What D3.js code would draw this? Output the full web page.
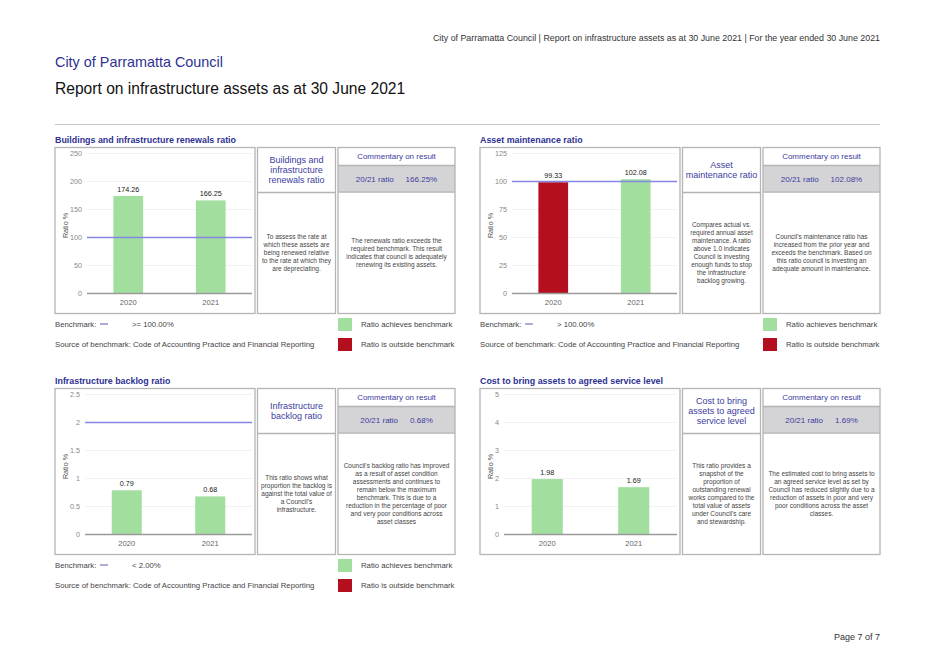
<!DOCTYPE html>
<html>
<head>
<meta charset="utf-8">
<script src="https://cdn.jsdelivr.net/npm/d3@7"></script>
<style>
  body { margin: 0; background: #fff; }
  svg { font-family: "Liberation Sans", Arial, sans-serif; }
  .box { fill: none; stroke: #b4b4b4; stroke-width: 1.3; }
  .ptitle { font-weight: bold; font-size: 8.9px; fill: #2e3192; }
  .tick { font-size: 7.2px; fill: #888; }
  .xlab { font-size: 7.6px; fill: #666; }
  .vlab { font-size: 7.2px; fill: #222; }
  .boxtitle { font-size: 9px; fill: #3c3ca0; }
  .body { font-size: 6.5px; fill: #444; }
  .legend { font-size: 7.75px; fill: #444; }
</style>
</head>
<body>
<script>
// ---- data ----
const years = ["2020", "2021"];
const renewalsValues = [174.26, 166.25];
const maintenanceValues = [99.33, 102.08];
const backlogValues = [0.79, 0.68];
const costValues = [1.98, 1.69];

const panelTitles = [
  "Buildings and infrastructure renewals ratio",
  "Asset maintenance ratio",
  "Infrastructure backlog ratio",
  "Cost to bring assets to agreed service level"
];
const yMaxes = [250, 125, 2.5, 5];
const yTickSteps = [50, 25, 0.5, 1];
const benchmarks = [100, 100, 2, null];
const benchmarkLabels = [">= 100.00%", "> 100.00%", "< 2.00%", null];
const ratioLabels = ["166.25%", "102.08%", "0.68%", "1.69%"];

const boxTitles = [
  ["Buildings and", "infrastructure", "renewals ratio"],
  ["Asset", "maintenance ratio"],
  ["Infrastructure", "backlog ratio"],
  ["Cost to bring", "assets to agreed", "service level"]
];
const descriptions = [
  ["To assess the rate at", "which these assets are", "being renewed relative", "to the rate at which they", "are depreciating."],
  ["Compares actual vs.", "required annual asset", "maintenance. A ratio", "above 1.0 indicates", "Council is investing", "enough funds to stop", "the infrastructure", "backlog growing."],
  ["This ratio shows what", "proportion the backlog is", "against the total value of", "a Council\u2019s", "infrastructure."],
  ["This ratio provides a", "snapshot of the", "proportion of", "outstanding renewal", "works compared to the", "total value of assets", "under Council\u2019s care", "and stewardship."]
];
const commentaries = [
  ["The renewals ratio exceeds the", "required benchmark. This result", "indicates that council is adequately", "renewing its existing assets."],
  ["Council\u2019s maintenance ratio has", "increased from the prior year and", "exceeds the benchmark. Based on", "this ratio council is investing an", "adequate amount in maintenance."],
  ["Council\u2019s backlog ratio has improved", "as a result of asset condition", "assessments and continues to", "remain below the maximum", "benchmark. This is due to a", "reduction in the percentage of poor", "and very poor conditions across", "asset classes"],
  ["The estimated cost to bring assets to", "an agreed service level as set by", "Council has reduced slightly due to a", "reduction of assets in poor and very", "poor conditions across the asset", "classes."]
];
const seriesValues = [renewalsValues, maintenanceValues, backlogValues, costValues];
// benchmark test per panel: true = achieves
const passTests = [
  v => v >= 100,
  v => v > 100,
  v => v < 2,
  v => true
];

const GREEN = "#a2df9f", RED = "#b30f1f";

const W = 937, H = 665;
const svg = d3.select("body").append("svg").attr("width", W).attr("height", H);
svg.append("rect").attr("width", W).attr("height", H).attr("fill", "#fff");

// page header
svg.append("text").attr("x", 880).attr("y", 41).attr("text-anchor", "end")
  .attr("font-size", 8.85).attr("fill", "#333")
  .text("City of Parramatta Council | Report on infrastructure assets as at 30 June 2021 | For the year ended 30 June 2021");
svg.append("text").attr("x", 55).attr("y", 67).attr("font-size", 14.4).attr("fill", "#2e3192")
  .text("City of Parramatta Council");
svg.append("text").attr("x", 55).attr("y", 94).attr("font-size", 15.6).attr("fill", "#111")
  .text("Report on infrastructure assets as at 30 June 2021");
svg.append("line").attr("x1", 55).attr("x2", 880).attr("y1", 124.5).attr("y2", 124.5)
  .attr("stroke", "#c8c8c8").attr("stroke-width", 1);
svg.append("text").attr("x", 880).attr("y", 640).attr("text-anchor", "end")
  .attr("font-size", 9).attr("fill", "#333").text("Page 7 of 7");

// multi-line centred text block
function textBlock(g, lines, cx, cy, lh, cls) {
  const t = g.append("text").attr("class", cls).attr("text-anchor", "middle");
  const y0 = cy - (lines.length - 1) * lh / 2;
  lines.forEach((l, i) => {
    t.append("tspan").attr("x", cx).attr("y", y0 + i * lh).attr("dy", "0.35em").text(l);
  });
  return t;
}

const origins = [[55, 147.5], [480, 147.5], [55, 388.5], [480, 388.5]];

origins.forEach((o, i) => {
  const g = svg.append("g").attr("transform", `translate(${o[0]},${o[1]})`);
  const values = seriesValues[i];

  g.append("text").attr("class", "ptitle").attr("x", 0).attr("y", -5).text(panelTitles[i]);

  // ---- chart box ----
  g.append("rect").attr("class", "box").attr("x", 0).attr("y", 0).attr("width", 200).attr("height", 166);

  const y = d3.scaleLinear().domain([0, yMaxes[i]]).range([146, 6]);
  const ticks = d3.range(0, yMaxes[i] + yTickSteps[i] / 2, yTickSteps[i]);

  const tickText = g.append("g").selectAll("text").data(ticks).join("text")
    .attr("class", "tick").attr("text-anchor", "end")
    .attr("y", d => y(d)).attr("dy", "0.35em")
    .text(d => d3.format("~g")(d));
  let maxW = 0;
  tickText.each(function() { maxW = Math.max(maxW, this.getComputedTextLength()); });
  const left = 15 + maxW + 5, right = 197;
  tickText.attr("x", left - 5);

  g.append("g").selectAll("line").data(ticks.slice(1)).join("line")
    .attr("x1", left).attr("x2", right).attr("y1", d => y(d)).attr("y2", d => y(d))
    .attr("stroke", "#f2f2f2").attr("stroke-width", 1);

  g.append("text").attr("class", "tick")
    .attr("transform", `translate(10,${(y(0) + y(yMaxes[i])) / 2 + 2}) rotate(-90)`)
    .attr("text-anchor", "middle").attr("dy", "0.35em").style("fill", "#555").text("Ratio %");

  const x = d3.scaleBand().domain(years).range([left, right]);
  const bw = x.bandwidth() * 0.36;

  g.append("g").selectAll("rect").data(values).join("rect")
    .attr("x", (d, j) => x(years[j]) + (x.bandwidth() - bw) / 2)
    .attr("width", bw)
    .attr("y", d => y(d))
    .attr("height", d => y(0) - y(d))
    .attr("fill", d => passTests[i](d) ? GREEN : RED);

  g.append("g").selectAll("text").data(values).join("text")
    .attr("class", "vlab").attr("text-anchor", "middle")
    .attr("x", (d, j) => x(years[j]) + x.bandwidth() / 2)
    .attr("y", d => y(d) - 4)
    .text(d => d3.format(".2f")(d));

  g.append("line").attr("x1", left).attr("x2", right).attr("y1", y(0)).attr("y2", y(0))
    .attr("stroke", "#9a9a9a").attr("stroke-width", 1.5);

  g.append("g").selectAll("text").data(years).join("text")
    .attr("class", "xlab").attr("text-anchor", "middle")
    .attr("x", d => x(d) + x.bandwidth() / 2).attr("y", y(0) + 9).attr("dy", "0.35em")
    .text(d => d);

  if (benchmarks[i] !== null) {
    g.append("line").attr("x1", left).attr("x2", right)
      .attr("y1", y(benchmarks[i])).attr("y2", y(benchmarks[i]))
      .attr("stroke", "#8585e2").attr("stroke-width", 1.4);
  }

  // ---- description box ----
  g.append("rect").attr("class", "box").attr("x", 202.5).attr("y", 0).attr("width", 78).attr("height", 166);
  g.append("line").attr("x1", 202.5).attr("x2", 280.5).attr("y1", 45).attr("y2", 45)
    .attr("stroke", "#b4b4b4").attr("stroke-width", 1.3);
  textBlock(g, boxTitles[i], 241.5, 22.5, 10, "boxtitle");
  textBlock(g, descriptions[i], 241.5, 105.5, 8, "body");

  // ---- commentary box ----
  g.append("rect").attr("x", 283).attr("y", 18).attr("width", 117).attr("height", 26).attr("fill", "#d4d4d7");
  g.append("rect").attr("class", "box").attr("x", 283).attr("y", 0).attr("width", 117).attr("height", 166);
  g.append("line").attr("x1", 283).attr("x2", 400).attr("y1", 18).attr("y2", 18)
    .attr("stroke", "#b4b4b4").attr("stroke-width", 1.3);
  g.append("line").attr("x1", 283).attr("x2", 400).attr("y1", 44.5).attr("y2", 44.5)
    .attr("stroke", "#b4b4b4").attr("stroke-width", 1.3);
  g.append("text").attr("class", "boxtitle").style("font-size", "8px")
    .attr("x", 341.5).attr("y", 9).attr("dy", "0.35em").attr("text-anchor", "middle")
    .text("Commentary on result");
  const rt = g.append("text").attr("class", "boxtitle").style("font-size", "8px")
    .attr("x", 341.5).attr("y", 31.5).attr("dy", "0.35em").attr("text-anchor", "middle");
  rt.append("tspan").text("20/21 ratio");
  rt.append("tspan").attr("dx", 12).text(ratioLabels[i]);
  textBlock(g, commentaries[i], 341.5, 105.5, 8, "body");

  // ---- legend ----
  if (benchmarkLabels[i] !== null) {
    g.append("text").attr("class", "legend").attr("x", 0).attr("y", 177).attr("dy", "0.35em").text("Benchmark:");
    g.append("line").attr("x1", 45).attr("x2", 53).attr("y1", 176.5).attr("y2", 176.5)
      .attr("stroke", "#5a5aa8").attr("stroke-width", 1);
    g.append("text").attr("class", "legend").attr("x", 77).attr("y", 177).attr("dy", "0.35em")
      .text(benchmarkLabels[i]);
    g.append("text").attr("class", "legend").attr("x", 0).attr("y", 197).attr("dy", "0.35em")
      .text("Source of benchmark: Code of Accounting Practice and Financial Reporting");
    g.append("rect").attr("x", 283).attr("y", 170.5).attr("width", 14).attr("height", 13).attr("fill", GREEN);
    g.append("rect").attr("x", 283).attr("y", 190.5).attr("width", 14).attr("height", 13).attr("fill", RED);
    g.append("text").attr("class", "legend").attr("x", 306).attr("y", 177).attr("dy", "0.35em").text("Ratio achieves benchmark");
    g.append("text").attr("class", "legend").attr("x", 306).attr("y", 197).attr("dy", "0.35em").text("Ratio is outside benchmark");
  }
});
</script>
</body>
</html>
